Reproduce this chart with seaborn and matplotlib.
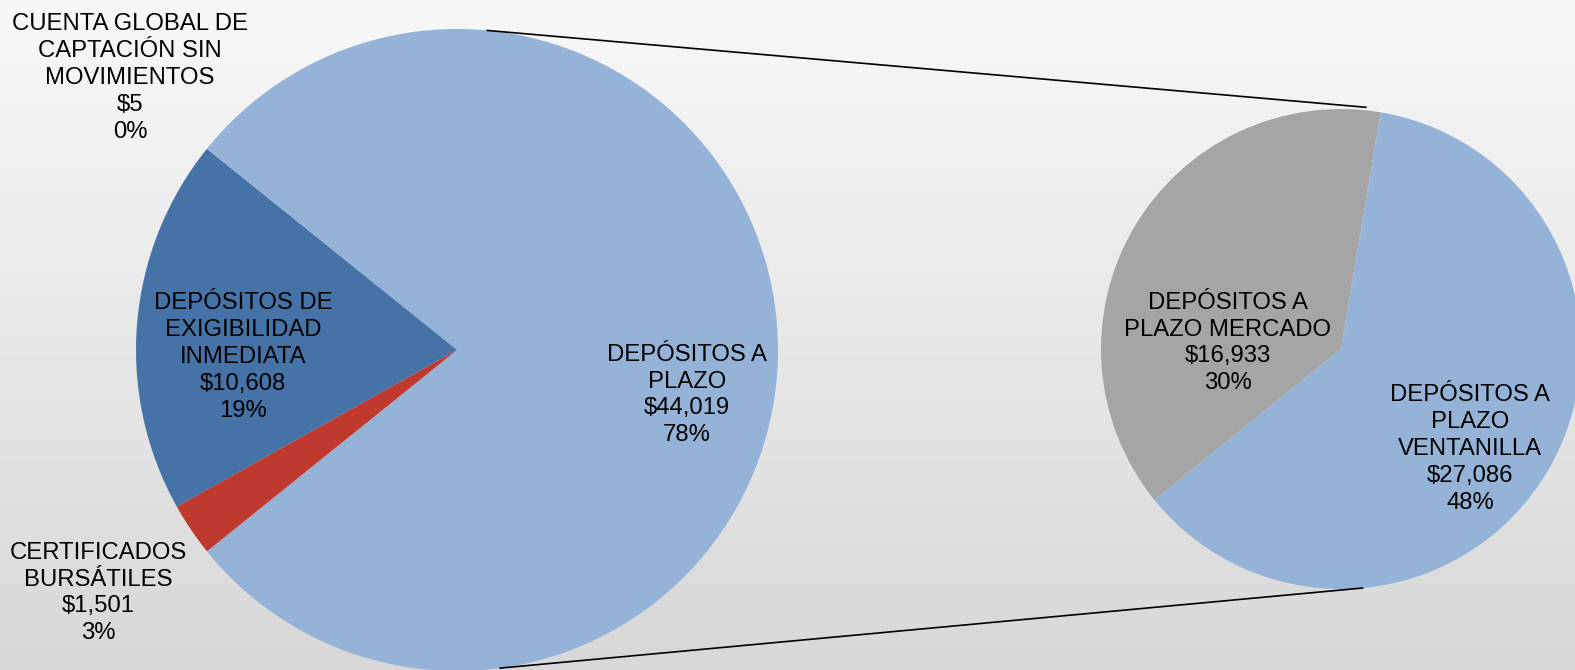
import numpy as np
import matplotlib
matplotlib.use("Agg")
import matplotlib.pyplot as plt
import seaborn as sns

# main pie: the "otros" slice (DEPÓSITOS A PLAZO) is split in the second pie
main_labels = ["DEPÓSITOS A\nPLAZO", "CUENTA GLOBAL DE\nCAPTACIÓN SIN\nMOVIMIENTOS",
               "DEPÓSITOS DE\nEXIGIBILIDAD\nINMEDIATA", "CERTIFICADOS\nBURSÁTILES"]
main_values = [44019, 5, 10608, 1501]
main_colors = ["#95B3D7", "#F5F5F5", "#4572A7", "#C0392F"]

sub_labels = ["DEPÓSITOS A\nPLAZO MERCADO", "DEPÓSITOS A\nPLAZO\nVENTANILLA"]
sub_values = [16933, 27086]
sub_colors = ["#A5A5A5", "#95B3D7"]

W, H = 1575, 670
sns.set_style("white")
plt.rcParams["font.family"] = ["Liberation Sans", "DejaVu Sans"]

fig = plt.figure(figsize=(W / 100, H / 100), dpi=100)
ax = fig.add_axes([0, 0, 1, 1])

# background gradient
grad = np.linspace(0, 1, 256).reshape(-1, 1)
cmap = matplotlib.colors.LinearSegmentedColormap.from_list("bg", ["#F8F8F8", "#D8D8D8"])
ax.imshow(grad, extent=[0, W, 0, H], aspect="auto", cmap=cmap, zorder=0, origin="upper")

total = sum(main_values)
c1, r1 = (457, H - 350), 321
c2, r2 = (1341, H - 349), 240

start1 = -main_values[0] / total * 180
ax.pie(main_values, colors=main_colors, startangle=start1, counterclock=True,
       center=c1, radius=r1, wedgeprops=dict(linewidth=0.6, edgecolor="none"))

ax.pie(sub_values, colors=sub_colors, startangle=80.5, counterclock=True,
       center=c2, radius=r2, wedgeprops=dict(linewidth=0.6, edgecolor="none"))

# connector lines
for a1, a2, off in [(84.6, 84.0, 3), (-82.3, -84.8, 0)]:
    p1 = (c1[0] + r1 * np.cos(np.radians(a1)), c1[1] + r1 * np.sin(np.radians(a1)))
    p2 = (c2[0] + r2 * np.cos(np.radians(a2)), c2[1] + r2 * np.sin(np.radians(a2)) + off)
    ax.plot([p1[0], p2[0]], [p1[1], p2[1]], color="black", lw=1.2, zorder=5)

def fmt(lab, v):
    return f"{lab}\n${v:,}\n{round(v / total * 100)}%"

txt = dict(ha="center", va="center", fontsize=17.2, color="black",
           multialignment="center", linespacing=1.29, zorder=6)

main_pos = [(687, 395), (130, 78), (243, 357), (98, 593)]
for lab, v, (x, y) in zip(main_labels, main_values, main_pos):
    ax.text(x, H - y, fmt(lab, v), **txt)

sub_pos = [(1228, 343), (1470, 449)]
for lab, v, (x, y) in zip(sub_labels, sub_values, sub_pos):
    ax.text(x, H - y, fmt(lab, v), **txt)

ax.set_xlim(0, W)
ax.set_ylim(0, H)
ax.set_aspect("auto")
ax.axis("off")
fig.savefig("out.png", dpi=100)
